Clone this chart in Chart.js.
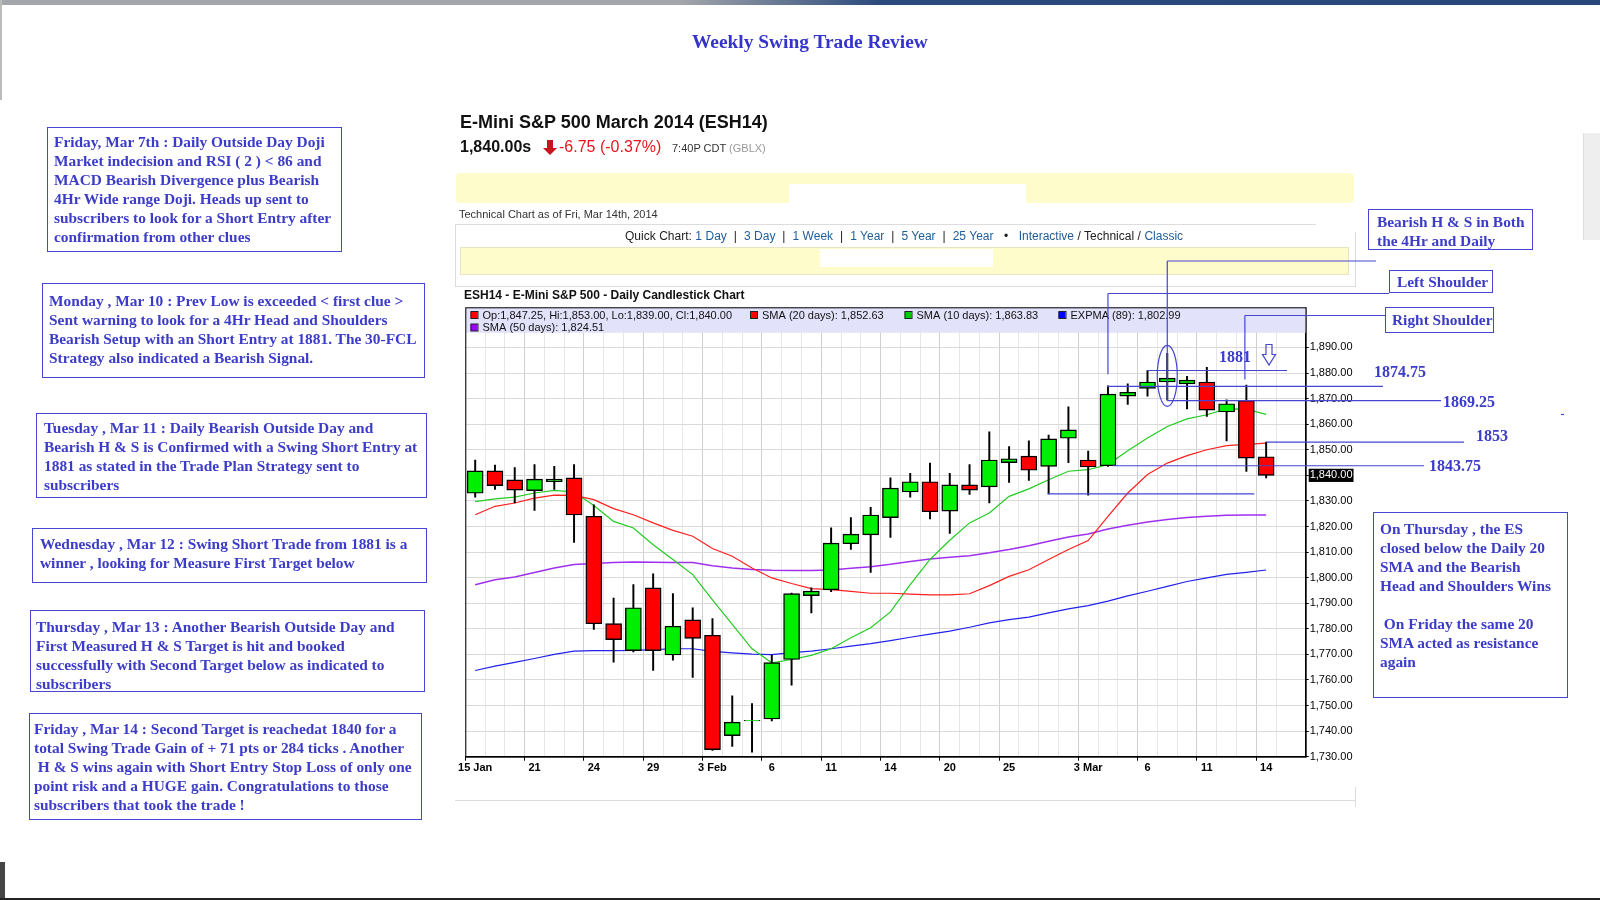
<!DOCTYPE html>
<html>
<head>
<meta charset="utf-8">
<title>Weekly Swing Trade Review</title>
<script src="https://cdn.jsdelivr.net/npm/chart.js@4.4.1/dist/chart.umd.min.js"></script>
<style>
body{margin:0;width:1600px;height:900px;position:relative;overflow:hidden;background:#fff;font-family:"Liberation Sans",Arial,sans-serif;}
.a{position:absolute;white-space:pre;}
.bg{z-index:0;}
.tx{z-index:2;}
.note{position:absolute;z-index:2;box-sizing:border-box;border:1px solid #4646d2;color:#3c3cc8;font:bold 15.4px/19px "Liberation Serif","Times New Roman",serif;white-space:pre;}
.lvl{position:absolute;z-index:2;color:#3c3cc8;font:bold 16px/18px "Liberation Serif","Times New Roman",serif;white-space:pre;}
.lnk{color:#1f5c99;}
#c{position:absolute;left:0;top:0;z-index:1;}
</style>
</head>
<body>
<!-- page furniture -->
<div class="a bg" style="left:0;top:0;width:1600px;height:5px;background:linear-gradient(90deg,#a3a6aa 0,#a3a6aa 680px,#2b4a7c 880px,#27467a 100%);"></div>
<div class="a bg" style="left:0;top:0;width:2px;height:100px;background:#bbb;"></div>
<div class="a bg" style="left:1583px;top:133px;width:17px;height:107px;background:#eeeeee;border-left:1px solid #ddd;"></div>
<div class="a bg" style="left:0;top:862px;width:5px;height:36px;background:#444;"></div>
<div class="a bg" style="left:0;top:898px;width:1600px;height:2px;background:#222;"></div>

<div class="a tx" style="left:692px;top:31px;font:bold 19.4px 'Liberation Serif',serif;color:#3434cc;">Weekly Swing Trade Review</div>

<div class="a tx" style="left:460px;top:112px;font:bold 18px 'Liberation Sans',Arial,sans-serif;color:#111;">E-Mini S&amp;P 500 March 2014 (ESH14)</div>
<div class="a tx" style="left:460px;top:138px;font:bold 16px 'Liberation Sans',Arial,sans-serif;color:#111;">1,840.00s</div>
<svg class="a tx" style="left:542px;top:140px;" width="16" height="16" viewBox="0 0 16 16"><polygon points="5,0 11,0 11,8 15,8 8,15 1,8 5,8" fill="#c8141e"/></svg>
<div class="a tx" style="left:559px;top:138px;font:16px 'Liberation Sans',Arial,sans-serif;color:#e8141e;">-6.75 (-0.37%)</div>
<div class="a tx" style="left:672px;top:142px;font:11px 'Liberation Sans',Arial,sans-serif;color:#333;">7:40P CDT <span style="color:#999">(GBLX)</span></div>

<div class="a bg" style="left:456px;top:173px;width:898px;height:30px;background:#fffccc;border-radius:4px;"></div>
<div class="a bg" style="left:789px;top:184px;width:237px;height:20px;background:#fff;"></div>
<div class="a tx" style="left:459px;top:208px;font:11px 'Liberation Sans',Arial,sans-serif;color:#333;">Technical Chart as of Fri, Mar 14th, 2014</div>

<div class="a bg" style="left:455px;top:224px;width:861px;height:1px;background:#dcdcdc;"></div>
<div class="a bg" style="left:455px;top:224px;width:1px;height:62px;background:#dcdcdc;"></div>
<div class="a bg" style="left:455px;top:286px;width:900px;height:1px;background:#dcdcdc;"></div>
<div class="a bg" style="left:1355px;top:232px;width:1px;height:55px;background:#dcdcdc;"></div>
<div class="a tx" style="left:625px;top:229px;font:12px 'Liberation Sans',Arial,sans-serif;color:#222;word-spacing:0.15px;">Quick Chart: <span class="lnk">1 Day</span>  |  <span class="lnk">3 Day</span>  |  <span class="lnk">1 Week</span>  |  <span class="lnk">1 Year</span>  |  <span class="lnk">5 Year</span>  |  <span class="lnk">25 Year</span>   •   <span class="lnk">Interactive</span> / Technical / <span class="lnk">Classic</span></div>
<div class="a bg" style="left:460px;top:247px;width:889px;height:28px;background:#fffccc;border:1px solid #e6e4c4;box-sizing:border-box;"></div>
<div class="a bg" style="left:820px;top:249px;width:173px;height:18px;background:#fff;"></div>
<div class="a tx" style="left:464px;top:288px;font:bold 12px 'Liberation Sans',Arial,sans-serif;color:#111;">ESH14 - E-Mini S&amp;P 500 - Daily Candlestick Chart</div>
<div class="a bg" style="left:455px;top:800px;width:900px;height:1px;background:#dcdcdc;"></div>
<div class="a bg" style="left:1355px;top:787px;width:1px;height:20px;background:#dcdcdc;"></div>

<!-- commentary boxes -->
<div class="note" style="left:47px;top:127px;width:295px;height:125px;padding:4px 0 0 6px;">Friday, Mar 7th : Daily Outside Day Doji
Market indecision and RSI ( 2 ) &lt; 86 and
MACD Bearish Divergence plus Bearish
4Hr Wide range Doji. Heads up sent to
subscribers to look for a Short Entry after
confirmation from other clues</div>
<div class="note" style="left:42px;top:283px;width:383px;height:95px;padding:7px 0 0 6px;">Monday , Mar 10 : Prev Low is exceeded &lt; first clue &gt;
Sent warning to look for a 4Hr Head and Shoulders
Bearish Setup with an Short Entry at 1881. The 30-FCL
Strategy also indicated a Bearish Signal.</div>
<div class="note" style="left:36px;top:413px;width:391px;height:85px;padding:4px 0 0 7px;">Tuesday , Mar 11 : Daily Bearish Outside Day and
Bearish H &amp; S is Confirmed with a Swing Short Entry at
1881 as stated in the Trade Plan Strategy sent to
subscribers</div>
<div class="note" style="left:32px;top:528px;width:395px;height:55px;padding:5px 0 0 7px;">Wednesday , Mar 12 : Swing Short Trade from 1881 is a
winner , looking for Measure First Target below</div>
<div class="note" style="left:30px;top:610px;width:395px;height:82px;padding:6px 0 0 5px;">Thursday , Mar 13 : Another Bearish Outside Day and
First Measured H &amp; S Target is hit and booked
successfully with Second Target below as indicated to
subscribers</div>
<div class="note" style="left:29px;top:713px;width:393px;height:107px;padding:5px 0 0 4px;">Friday , Mar 14 : Second Target is reachedat 1840 for a
total Swing Trade Gain of + 71 pts or 284 ticks . Another
 H &amp; S wins again with Short Entry Stop Loss of only one
point risk and a HUGE gain. Congratulations to those
subscribers that took the trade !</div>

<div class="note" style="left:1368px;top:209px;width:165px;height:41px;padding:2px 0 0 8px;line-height:19.3px;">Bearish H &amp; S in Both
the 4Hr and Daily</div>
<div class="note" style="left:1389px;top:270px;width:104px;height:23px;padding:1px 0 0 7px;line-height:20px;">Left Shoulder</div>
<div class="note" style="left:1385px;top:307px;width:109px;height:26px;padding:2px 0 0 6px;line-height:20px;">Right Shoulder</div>
<div class="note" style="left:1373px;top:512px;width:195px;height:186px;padding:6px 0 0 6px;">On Thursday , the ES
closed below the Daily 20
SMA and the Bearish
Head and Shoulders Wins

 On Friday the same 20
SMA acted as resistance
again</div>

<div class="lvl" style="left:1219px;top:348px;">1881</div>
<div class="lvl" style="left:1374px;top:363px;">1874.75</div>
<div class="lvl" style="left:1443px;top:393px;">1869.25</div>
<div class="lvl" style="left:1476px;top:427px;">1853</div>
<div class="lvl" style="left:1429px;top:457px;">1843.75</div>

<canvas id="c" width="1600" height="900"></canvas>

<script>
// trading days, 15 Jan .. 14 Mar 2014
const days = ['Jan 15','Jan 16','Jan 17','Jan 21','Jan 22','Jan 23','Jan 24','Jan 27','Jan 28','Jan 29','Jan 30','Jan 31',
  'Feb 3','Feb 4','Feb 5','Feb 6','Feb 7','Feb 10','Feb 11','Feb 12','Feb 13','Feb 14','Feb 18','Feb 19','Feb 20','Feb 21',
  'Feb 24','Feb 25','Feb 26','Feb 27','Feb 28','Mar 3','Mar 4','Mar 5','Mar 6','Mar 7','Mar 10','Mar 11','Mar 12','Mar 13','Mar 14'];

const open  = [1833.0,1841.75,1838.25,1834.0,1837.5,1839.0,1824.0,1782.0,1771.5,1796.0,1769.75,1783.5,1777.5,1738.25,1744.0,1744.75,1768.0,1793.0,1795.25,1813.25,1816.75,1823.5,1833.5,1837.5,1826.0,1836.25,1835.5,1845.0,1847.5,1843.5,1854.5,1846.0,1843.75,1871.0,1874.0,1876.5,1875.75,1876.5,1864.75,1869.25,1847.25];
const high  = [1846.0,1844.0,1843.0,1844.25,1843.5,1844.25,1828.5,1792.0,1797.25,1801.5,1793.75,1788.25,1784.0,1753.75,1750.75,1769.75,1794.0,1796.0,1819.5,1823.5,1827.5,1839.0,1840.75,1844.75,1840.75,1844.25,1857.0,1851.25,1853.5,1855.75,1866.75,1849.5,1875.0,1875.75,1881.0,1887.75,1878.75,1882.25,1869.5,1875.25,1853.0];
const low   = [1831.5,1834.5,1829.25,1826.25,1834.5,1813.75,1779.75,1767.0,1771.0,1763.75,1767.75,1761.0,1732.5,1734.0,1731.75,1744.0,1758.0,1786.25,1794.5,1811.0,1802.0,1815.75,1831.5,1823.0,1817.25,1832.5,1829.25,1837.25,1838.0,1832.75,1845.0,1832.25,1843.5,1867.75,1871.0,1869.5,1866.0,1863.0,1853.5,1841.5,1839.0];
const close = [1841.75,1836.0,1834.25,1838.5,1838.5,1824.5,1782.0,1775.75,1788.25,1771.5,1781.0,1776.25,1732.75,1743.5,1744.25,1766.75,1793.75,1794.75,1813.5,1817.0,1824.5,1835.0,1837.5,1825.75,1836.25,1834.25,1846.0,1846.5,1842.0,1854.25,1857.75,1843.25,1871.75,1872.5,1876.5,1878.0,1877.25,1865.5,1868.0,1846.75,1840.0];

const sma20 = [1824.6,1827.9,1829.2,1831.1,1832.3,1832.2,1830.5,1827.0,1824.6,1821.4,1818.5,1816.2,1811.4,1808.4,1803.8,1799.9,1797.7,1795.7,1795.3,1794.6,1793.9,1793.9,1793.6,1793.3,1793.3,1793.7,1796.9,1800.5,1803.1,1807.1,1811.0,1814.5,1824.0,1833.1,1840.3,1844.8,1847.7,1850.0,1851.6,1852.1,1852.63];
const sma10 = [1829.7,1830.8,1831.5,1833.1,1834.1,1833.5,1828.2,1822.0,1819.4,1812.9,1807.1,1801.2,1791.3,1781.7,1772.2,1766.7,1768.0,1769.6,1772.2,1776.5,1780.4,1786.6,1797.3,1807.1,1814.6,1821.4,1825.3,1831.8,1834.7,1838.3,1841.6,1842.2,1844.2,1849.6,1854.6,1859.1,1862.1,1863.7,1866.0,1865.9,1863.83];
const sma50 = [1797.2,1799.2,1800.3,1802.0,1803.8,1805.1,1805.5,1805.9,1806.1,1806.0,1805.9,1805.9,1804.7,1803.8,1803.2,1802.9,1802.8,1802.8,1803.0,1803.7,1804.3,1805.2,1806.3,1807.3,1808.0,1808.6,1809.7,1811.0,1812.5,1814.2,1815.9,1817.1,1819.0,1820.5,1821.8,1822.7,1823.5,1824.0,1824.4,1824.5,1824.51];
const expma89 = [1763.7,1765.4,1766.9,1768.4,1770.0,1771.3,1771.5,1771.5,1771.6,1771.9,1772.2,1772.2,1771.2,1770.6,1770.1,1769.9,1770.7,1771.3,1772.2,1773.2,1774.2,1775.4,1776.7,1777.9,1779.1,1780.6,1782.3,1783.6,1784.6,1786.2,1787.8,1789.1,1790.8,1792.9,1794.7,1796.6,1798.5,1799.9,1801.3,1802.1,1802.99];

// x-axis labels and the y ticks
const tickIdx  = [0,3,6,9,12,15,18,21,24,27,31,34,37,40];
const tickText = ['15 Jan','21','24','29','3 Feb','6','11','14','20','25','3 Mar','6','11','14'];
const yTicks = [1730,1740,1750,1760,1770,1780,1790,1800,1810,1820,1830,1840,1850,1860,1870,1880,1890];
const lastPrice = 1840;

// legend strip text
const legendRow1 = [
  ['#ff0000', 'Op:1,847.25, Hi:1,853.00, Lo:1,839.00, Cl:1,840.00'],
  ['#ff0000', 'SMA (20 days): 1,852.63'],
  ['#00cc00', 'SMA (10 days): 1,863.83'],
  ['#0000ff', 'EXPMA (89): 1,802.99']
];
const legendRow2 = [['#9900ff', 'SMA (50 days): 1,824.51']];

// levels marked on the chart by hand
const levels = {entry: 1881, leftSh: 1874.75, head: 1869.25, sma: 1853, neck: 1843.75, low: 1832.75};

const fmt = v => v.toLocaleString('en-US', {minimumFractionDigits: 2, maximumFractionDigits: 2});
const isUp = i => close[i] >= open[i];

const bodies = days.map((d, i) => ({x: i, y: [Math.min(open[i], close[i]), Math.max(open[i], close[i])]}));
const wicks  = days.map((d, i) => ({x: i, y: [low[i], high[i]]}));
const line = arr => arr.map((v, i) => ({x: i, y: v}));

const chartDecor = {
  id: 'chartDecor',
  beforeDatasetsDraw(chart) {
    const {ctx, chartArea: a} = chart;
    ctx.save();
    ctx.fillStyle = '#e2e2fb';
    ctx.fillRect(a.left, a.top, a.right - a.left, 25.5);
    ctx.font = '11px "Liberation Sans", Arial, sans-serif';
    ctx.textBaseline = 'middle';
    const xs1 = [470.5, 750, 904.5, 1058.5];
    legendRow1.forEach((it, k) => {
      ctx.fillStyle = it[0];
      ctx.fillRect(xs1[k], 311.5, 7, 7);
      ctx.strokeStyle = '#222';
      ctx.lineWidth = 1;
      ctx.strokeRect(xs1[k] + 0.5, 311.5, 7, 7);
      ctx.fillStyle = '#111';
      ctx.fillText(it[1], xs1[k] + 12, 315.5);
    });
    legendRow2.forEach(it => {
      ctx.fillStyle = it[0];
      ctx.fillRect(470.5, 324, 7, 7);
      ctx.strokeRect(471, 324, 7, 7);
      ctx.fillStyle = '#111';
      ctx.fillText(it[1], 482.5, 328);
    });
    ctx.restore();
  },
  afterDraw(chart) {
    const {ctx, chartArea: a} = chart;
    const xs = i => chart.scales.x.getPixelForValue(i);
    const ys = v => chart.scales.y.getPixelForValue(v);
    ctx.save();
    ctx.strokeStyle = '#000';
    ctx.lineWidth = 1;
    ctx.strokeRect(a.left + 0.5, a.top + 0.5, a.right - a.left, a.bottom - a.top);

    // hand drawn head and shoulders markup
    ctx.strokeStyle = '#4646d2';
    ctx.lineWidth = 1.2;
    const seg = (x1, y1, x2, y2) => { ctx.beginPath(); ctx.moveTo(x1, y1); ctx.lineTo(x2, y2); ctx.stroke(); };
    // left shoulder
    seg(xs(32), 293.5, 1389, 293.5);
    seg(xs(32), 293.5, xs(32), ys(1879.5));
    seg(xs(32) - 1, ys(levels.leftSh), 1383, ys(levels.leftSh));
    // head
    seg(xs(35), 261, 1376, 261);
    seg(xs(35), 261, xs(35), ys(levels.head));
    seg(xs(35), ys(levels.head), 1441, ys(levels.head));
    ctx.beginPath();
    ctx.ellipse(xs(35), ys(1878.9), 10, 30.5, 0, 0, Math.PI * 2);
    ctx.stroke();
    seg(xs(34), ys(levels.entry), 1287, ys(levels.entry));
    // right shoulder
    seg(xs(39) - 1.5, 315.5, 1385, 315.5);
    seg(xs(39) - 1.5, 315.5, xs(39) - 1.5, ys(1877.5));
    // targets
    seg(xs(40), ys(levels.sma), 1464, ys(levels.sma));
    seg(xs(32) + 5, ys(levels.neck), 1424, ys(levels.neck));
    seg(xs(29) - 1, ys(levels.low), xs(39.4), ys(levels.low));
    // outlined down arrow
    const ax = 1269, ay = 344.5;
    ctx.beginPath();
    ctx.moveTo(ax - 3, ay); ctx.lineTo(ax + 3, ay); ctx.lineTo(ax + 3, ay + 10);
    ctx.lineTo(ax + 6.5, ay + 10); ctx.lineTo(ax, ay + 20.5); ctx.lineTo(ax - 6.5, ay + 10);
    ctx.lineTo(ax - 3, ay + 10); ctx.closePath();
    ctx.stroke();
    seg(1561, 414.5, 1564, 414.5);
    ctx.restore();
  }
};

new Chart(document.getElementById('c'), {
  type: 'bar',
  data: {
    datasets: [
      {type: 'line', data: line(sma20), borderColor: '#ff2020', borderWidth: 1.2, pointRadius: 0, order: 3},
      {type: 'line', data: line(sma10), borderColor: '#22cc22', borderWidth: 1.2, pointRadius: 0, order: 3},
      {type: 'line', data: line(sma50), borderColor: '#a030f0', borderWidth: 1.5, pointRadius: 0, order: 3},
      {type: 'line', data: line(expma89), borderColor: '#2222ee', borderWidth: 1.2, pointRadius: 0, order: 3},
      {data: wicks, backgroundColor: '#000', barThickness: 1.3, grouped: false, order: 2},
      {data: bodies, backgroundColor: bodies.map((b, i) => isUp(i) ? '#00ee00' : '#ff0000'),
        borderColor: '#000', borderWidth: 1.4, borderSkipped: false, barThickness: 16, grouped: false, order: 1}
    ]
  },
  options: {
    responsive: false,
    animation: false,
    devicePixelRatio: 1,
    layout: {padding: {left: 465.3, top: 307.3, right: 244.3, bottom: 123.3}},
    plugins: {legend: {display: false}, tooltip: {enabled: false}},
    scales: {
      x: {
        type: 'linear', min: -0.5, max: 42, offset: false,
        afterBuildTicks: s => { s.ticks = days.map((d, i) => ({value: i})); },
        afterFit: s => { s.height = 20; },
        grid: {
          color: c => tickIdx.includes(c.tick && c.tick.value) ? '#cfcfcf' : '#e6e6e6',
          tickColor: c => tickIdx.includes(c.tick && c.tick.value) ? '#000' : 'rgba(0,0,0,0)',
          tickLength: 4, drawOnChartArea: true
        },
        border: {color: '#000'},
        ticks: {
          autoSkip: false, maxRotation: 0, padding: 1, color: '#000',
          font: {family: '"Liberation Sans", Arial, sans-serif', size: 11, weight: 'bold'},
          callback: v => { const k = tickIdx.indexOf(v); return k >= 0 ? tickText[k] : ''; }
        }
      },
      y: {
        position: 'right', min: 1730, max: 1905.7,
        afterBuildTicks: s => { s.ticks = yTicks.map(v => ({value: v})); },
        afterFit: s => { s.width = 50; },
        grid: {color: '#d9d9d9', tickColor: '#000', tickLength: 3},
        border: {color: '#000'},
        ticks: {
          padding: 1,
          color: c => c.tick && c.tick.value === lastPrice ? '#fff' : '#000',
          showLabelBackdrop: c => !!(c.tick && c.tick.value === lastPrice),
          backdropColor: '#000', backdropPadding: {top: 0, bottom: 0, left: 1, right: 1},
          font: {family: '"Liberation Sans", Arial, sans-serif', size: 11},
          callback: v => fmt(v)
        }
      }
    }
  },
  plugins: [chartDecor]
});
</script>
</body>
</html>
